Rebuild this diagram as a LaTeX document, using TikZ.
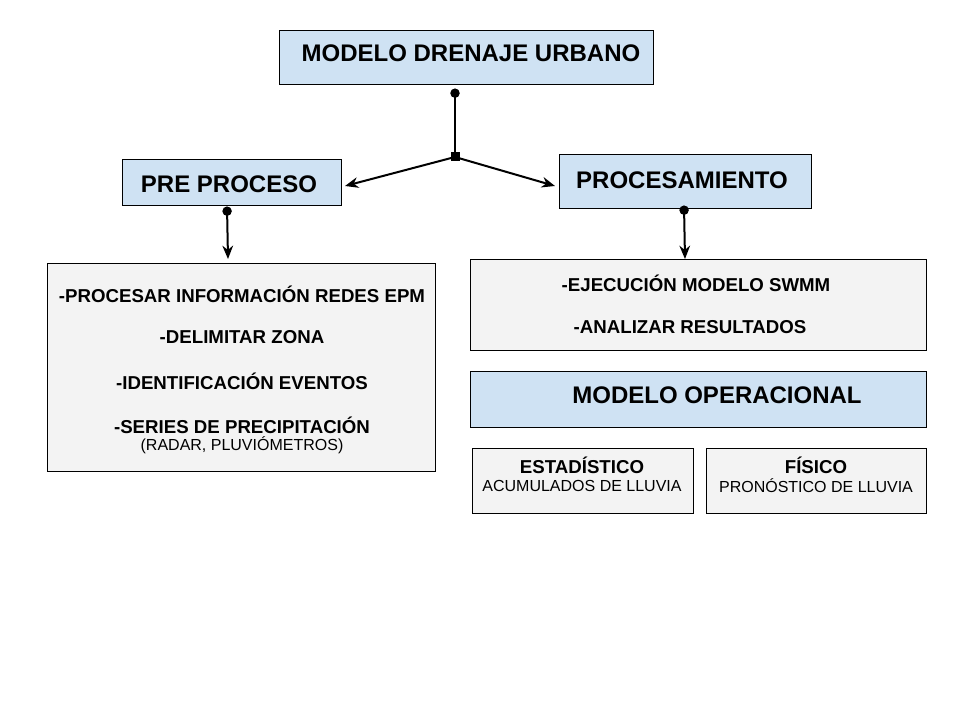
\documentclass[tikz,border=0pt]{standalone}
\usepackage{fontspec}
\setmainfont{Liberation Sans}
\usetikzlibrary{arrows.meta}
\definecolor{bluebox}{HTML}{CFE2F3}
\definecolor{greybox}{HTML}{F3F3F3}
\begin{document}
\begin{tikzpicture}[x=0.75pt,y=-0.75pt,
  bbox/.style={draw=black,line width=0.75pt,fill=bluebox},
  gbox/.style={draw=black,line width=0.75pt,fill=greybox},
  big/.style={font=\fontsize{18}{21}\selectfont\bfseries,inner sep=0pt},
  mid/.style={font=\fontsize{14}{17}\selectfont\bfseries,inner sep=0pt},
  sml/.style={font=\fontsize{12}{14}\selectfont,inner sep=0pt},
  tip/.style={-{Stealth[length=10pt,width=8pt]}},
  conn/.style={line width=1.5pt,{Circle[length=7pt]}-{Stealth[length=10pt,width=8pt]}},
  ]
\useasboundingbox (0,0) rectangle (960,720);
% boxes
\draw[bbox] (279,31) rectangle (653,85);
\node[big] (t1) at (471,53) {MODELO DRENAJE URBANO};
\draw[bbox] (122,160) rectangle (341,206);
\node[big] (t2) at (229,184) {PRE PROCESO};
\draw[bbox] (559,155) rectangle (811,209);
\node[big] (t3) at (682,180) {PROCESAMIENTO};
\draw[gbox] (47,264) rectangle (435,471);
\node[mid] (l1) at (242,294) {-PROCESAR INFORMACIÓN REDES EPM};
\node[mid] (l2) at (242,337) {-DELIMITAR ZONA};
\node[mid] (l3) at (242,381) {-IDENTIFICACIÓN EVENTOS};
\node[mid] (l4) at (242,425) {-SERIES DE PRECIPITACIÓN};
\node[sml] (l5) at (242,445) {(RADAR, PLUVIÓMETROS)};
\draw[gbox] (470,260) rectangle (926,350);
\node[mid] (r1) at (696,283) {-EJECUCIÓN MODELO SWMM};
\node[mid] (r2) at (690,327) {-ANALIZAR RESULTADOS};
\draw[bbox] (470,371) rectangle (926,427);
\node[big] (t4) at (717,395) {MODELO OPERACIONAL};
\draw[gbox] (472,448) rectangle (693,513);
\node[mid] (e1) at (582,465) {ESTADÍSTICO};
\node[sml] (e2) at (582,486) {ACUMULADOS DE LLUVIA};
\draw[gbox] (706,448) rectangle (926,513);
\node[mid] (f1) at (816,465) {FÍSICO};
\node[sml] (f2) at (816,486) {PRONÓSTICO DE LLUVIA};
% connectors
\coordinate (c0) at (455,88.5);
\coordinate (j) at (455,157);
\coordinate (aL) at (345,186);
\coordinate (aR) at (555,186);
\draw[line width=1.5pt,{Circle[length=7pt]}-] (c0) -- (j);
\fill (j) ++(-4.5,-4.5) rectangle ++(9,9);
\draw[line width=1.5pt,tip] (j) -- (aL);
\draw[line width=1.5pt,tip] (j) -- (aR);
\coordinate (d1) at (227,206.5);
\coordinate (d2) at (228,259);
\draw[conn] (d1) -- (d2);
\coordinate (e1s) at (684,205.5);
\coordinate (e1t) at (685,259);
\draw[conn] (e1s) -- (e1t);
\end{tikzpicture}
\end{document}
